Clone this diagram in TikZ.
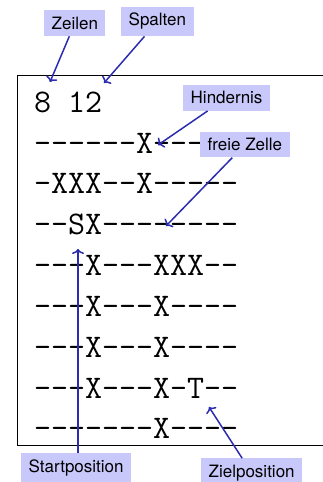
\documentclass[tikz,border=0pt]{standalone}
\usepackage{fontspec}
\setsansfont{TeX Gyre Heros}
\usetikzlibrary{arrows.meta}
\definecolor{lav}{RGB}{200,200,250}
\definecolor{arrc}{RGB}{44,44,176}
\tikzset{
  lbl/.style={fill=lav, font=\sffamily\fontsize{17}{20}\selectfont, inner xsep=7.5pt, inner ysep=6.5pt, anchor=base west},
  gridrow/.style={font=\ttfamily\fontsize{33}{41}\selectfont, inner sep=0pt, anchor=base west},
  arr/.style={arrc, line width=1.5pt, -{Computer Modern Rightarrow[length=5pt, width=12pt, line width=1.5pt]}}
}
\begin{document}
\begin{tikzpicture}[x=1pt,y=1pt]
\clip (0,0) rectangle (323,482);
\draw[line width=1pt] (17,406) rectangle (345,36);
\node[gridrow] (r0) at (34,369) {8 12};
\node[gridrow] (r1) at (34,328.5) {------X-----};
\node[gridrow] (r2) at (34,288) {-XXX--X-----};
\node[gridrow] (r3) at (34,247.5) {--SX--------};
\node[gridrow] (r4) at (34,206.5) {---X---XXX--};
\node[gridrow] (r5) at (34,165.5) {---X---X----};
\node[gridrow] (r6) at (34,124.5) {---X---X----};
\node[gridrow] (r7) at (34,83.5) {---X---X-T--};
\node[gridrow] (r8) at (34,43) {-------X----};
\node[lbl] (zeilen) at (44,452.7) {Zeilen};
\node[lbl] (spalten) at (121,456) {Spalten};
\node[lbl] (hind) at (183,378) {Hindernis};
\node[lbl] (frei) at (200,331.3) {freie Zelle};
\node[lbl] (start) at (21,9.7) {Startposition};
\node[lbl] (ziel) at (201,4.7) {Zielposition};
\coordinate (tz) at (50,400);
\coordinate (ts) at (104,399);
\coordinate (th) at (158,337);
\coordinate (tf) at (166,256);
\coordinate (tst) at (78,233);
\coordinate (tzi) at (209,75);
\draw[arr] (zeilen) -- (tz);
\draw[arr] (spalten) -- (ts);
\draw[arr] (hind) -- (th);
\draw[arr] (frei) -- (tf);
\draw[arr] (start.north -| tst) -- (tst);
\draw[arr] (ziel) -- (tzi);
\end{tikzpicture}
\end{document}
